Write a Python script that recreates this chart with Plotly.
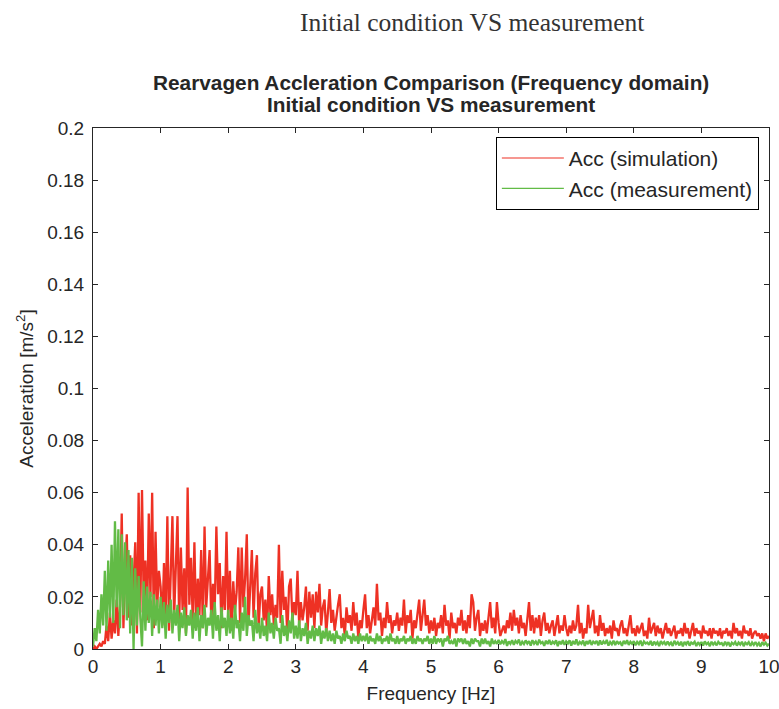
import numpy as np
import plotly.graph_objects as go

# Frequency bins of the spectra (0 .. 10 Hz, 0.025 Hz resolution)
freq_step = 0.025
freq_hz = np.round(np.arange(401) * freq_step, 3)

# Simulated acceleration amplitude spectrum [m/s^2]
acc_simulation = [
    0.000, 0.001, 0.000, 0.001, 0.002, 0.001, 0.003, 0.002, 0.009, 0.003, 0.014, 0.004, 0.011, 0.006, 0.019, 0.005, 0.017, 0.052, 0.008, 0.031,
    0.044, 0.012, 0.036, 0.009, 0.028, 0.041, 0.006, 0.060, 0.014, 0.061, 0.018, 0.034, 0.011, 0.052, 0.020, 0.060, 0.008, 0.045, 0.016, 0.030,
    0.024, 0.009, 0.033, 0.013, 0.051, 0.007, 0.029, 0.051, 0.012, 0.036, 0.051, 0.010, 0.039, 0.015, 0.031, 0.006, 0.062, 0.017, 0.035, 0.011,
    0.041, 0.009, 0.027, 0.013, 0.038, 0.008, 0.047, 0.016, 0.030, 0.038, 0.010, 0.025, 0.014, 0.047, 0.021, 0.033, 0.008, 0.028, 0.015, 0.045,
    0.012, 0.030, 0.007, 0.026, 0.014, 0.022, 0.039, 0.010, 0.039, 0.016, 0.027, 0.044, 0.009, 0.024, 0.038, 0.012, 0.029, 0.036, 0.008, 0.021,
    0.024, 0.011, 0.019, 0.006, 0.028, 0.013, 0.021, 0.009, 0.017, 0.012, 0.040, 0.010, 0.030, 0.015, 0.020, 0.005, 0.024, 0.027, 0.011, 0.018,
    0.013, 0.030, 0.009, 0.018, 0.011, 0.016, 0.024, 0.007, 0.022, 0.012, 0.021, 0.008, 0.022, 0.014, 0.025, 0.009, 0.016, 0.019, 0.006, 0.014,
    0.023, 0.010, 0.015, 0.007, 0.013, 0.017, 0.021, 0.008, 0.012, 0.005, 0.016, 0.010, 0.013, 0.007, 0.018, 0.009, 0.014, 0.004, 0.011, 0.008,
    0.015, 0.021, 0.008, 0.013, 0.006, 0.012, 0.016, 0.009, 0.025, 0.011, 0.014, 0.005, 0.012, 0.008, 0.018, 0.010, 0.013, 0.006, 0.011, 0.009,
    0.014, 0.007, 0.012, 0.009, 0.019, 0.006, 0.013, 0.010, 0.015, 0.004, 0.011, 0.008, 0.014, 0.019, 0.007, 0.012, 0.019, 0.009, 0.013, 0.006,
    0.011, 0.007, 0.012, 0.005, 0.010, 0.008, 0.013, 0.006, 0.017, 0.009, 0.011, 0.004, 0.014, 0.008, 0.010, 0.006, 0.012, 0.009, 0.015, 0.007,
    0.011, 0.006, 0.013, 0.008, 0.021, 0.018, 0.007, 0.012, 0.015, 0.005, 0.010, 0.007, 0.011, 0.006, 0.013, 0.018, 0.008, 0.012, 0.006, 0.018,
    0.010, 0.005, 0.007, 0.009, 0.006, 0.011, 0.008, 0.014, 0.007, 0.015, 0.009, 0.012, 0.006, 0.013, 0.008, 0.010, 0.005, 0.012, 0.018, 0.007,
    0.013, 0.006, 0.012, 0.008, 0.013, 0.005, 0.011, 0.014, 0.007, 0.010, 0.006, 0.009, 0.011, 0.005, 0.010, 0.013, 0.006, 0.009, 0.007, 0.013,
    0.008, 0.005, 0.009, 0.006, 0.011, 0.007, 0.009, 0.017, 0.006, 0.010, 0.004, 0.008, 0.006, 0.017, 0.008, 0.011, 0.015, 0.006, 0.009, 0.005,
    0.013, 0.007, 0.010, 0.005, 0.008, 0.006, 0.009, 0.004, 0.011, 0.007, 0.008, 0.005, 0.009, 0.011, 0.006, 0.008, 0.005, 0.009, 0.013, 0.006,
    0.008, 0.005, 0.009, 0.006, 0.008, 0.010, 0.005, 0.007, 0.004, 0.012, 0.006, 0.008, 0.010, 0.005, 0.009, 0.006, 0.008, 0.004, 0.007, 0.010,
    0.006, 0.008, 0.005, 0.007, 0.009, 0.004, 0.007, 0.006, 0.008, 0.005, 0.010, 0.006, 0.008, 0.004, 0.007, 0.010, 0.005, 0.008, 0.006, 0.007,
    0.004, 0.009, 0.006, 0.007, 0.005, 0.008, 0.004, 0.008, 0.006, 0.007, 0.005, 0.008, 0.004, 0.007, 0.006, 0.008, 0.005, 0.007, 0.004, 0.010,
    0.006, 0.008, 0.005, 0.007, 0.004, 0.009, 0.006, 0.007, 0.005, 0.008, 0.004, 0.006, 0.007, 0.005, 0.006, 0.004, 0.006, 0.003, 0.006, 0.004,
    0.005,
]

# Measured acceleration amplitude spectrum [m/s^2]
acc_measurement = [
    0.001, 0.008, 0.003, 0.015, 0.006, 0.021, 0.009, 0.030, 0.007, 0.034, 0.012, 0.040, 0.010, 0.049, 0.016, 0.046, 0.008, 0.044, 0.013, 0.041,
    0.011, 0.038, 0.006, 0.035, 0.000, 0.031, 0.009, 0.028, 0.012, 0.001, 0.026, 0.007, 0.024, 0.010, 0.022, 0.005, 0.021, 0.009, 0.019, 0.006,
    0.020, 0.008, 0.018, 0.004, 0.017, 0.010, 0.019, 0.006, 0.015, 0.009, 0.017, 0.003, 0.014, 0.008, 0.016, 0.005, 0.013, 0.009, 0.015, 0.004,
    0.014, 0.007, 0.016, 0.003, 0.013, 0.008, 0.017, 0.005, 0.012, 0.009, 0.015, 0.004, 0.018, 0.007, 0.013, 0.003, 0.016, 0.008, 0.012, 0.005,
    0.015, 0.006, 0.012, 0.004, 0.017, 0.008, 0.011, 0.003, 0.014, 0.007, 0.020, 0.005, 0.013, 0.009, 0.011, 0.003, 0.015, 0.006, 0.010, 0.004,
    0.012, 0.005, 0.009, 0.003, 0.014, 0.006, 0.010, 0.004, 0.012, 0.007, 0.008, 0.002, 0.013, 0.005, 0.009, 0.003, 0.011, 0.006, 0.014, 0.004,
    0.009, 0.004, 0.011, 0.003, 0.008, 0.005, 0.010, 0.002, 0.007, 0.004, 0.009, 0.003, 0.008, 0.005, 0.009, 0.002, 0.007, 0.004, 0.008, 0.003,
    0.007, 0.003, 0.006, 0.002, 0.007, 0.004, 0.005, 0.002, 0.006, 0.003, 0.007, 0.004, 0.005, 0.002, 0.006, 0.003, 0.005, 0.002, 0.006, 0.003,
    0.005, 0.003, 0.006, 0.002, 0.005, 0.003, 0.004, 0.002, 0.006, 0.003, 0.005, 0.002, 0.004, 0.003, 0.005, 0.002, 0.006, 0.003, 0.004, 0.002,
    0.005, 0.002, 0.004, 0.003, 0.005, 0.002, 0.004, 0.003, 0.005, 0.002, 0.004, 0.002, 0.005, 0.003, 0.004, 0.002, 0.004, 0.003, 0.005, 0.002,
    0.004, 0.002, 0.005, 0.002, 0.004, 0.003, 0.004, 0.001, 0.004, 0.003, 0.005, 0.002, 0.003, 0.002, 0.004, 0.001, 0.004, 0.003, 0.004, 0.002,
    0.004, 0.002, 0.003, 0.001, 0.004, 0.002, 0.004, 0.003, 0.003, 0.001, 0.004, 0.002, 0.004, 0.002, 0.003, 0.001, 0.004, 0.002, 0.003, 0.002,
    0.0035, 0.0018, 0.0030, 0.0022, 0.0038, 0.0012, 0.0029, 0.0020, 0.0034, 0.0016, 0.0031, 0.0023, 0.0036, 0.0014, 0.0028, 0.0019, 0.0033, 0.0021, 0.0030, 0.0013,
    0.0034, 0.0020, 0.0029, 0.0015, 0.0036, 0.0022, 0.0027, 0.0012, 0.0032, 0.0019, 0.0035, 0.0017, 0.0028, 0.0021, 0.0033, 0.0011, 0.0030, 0.0018, 0.0034, 0.0016,
    0.0029, 0.0021, 0.0033, 0.0013, 0.0031, 0.0018, 0.0037, 0.0015, 0.0027, 0.0020, 0.0032, 0.0012, 0.0030, 0.0019, 0.0034, 0.0016, 0.0028, 0.0022, 0.0031, 0.0014,
    0.0033, 0.0017, 0.0029, 0.0020, 0.0035, 0.0013, 0.0027, 0.0018, 0.0032, 0.0015, 0.0030, 0.0021, 0.0026, 0.0012, 0.0031, 0.0019, 0.0034, 0.0016, 0.0028, 0.0020,
    0.0030, 0.0014, 0.0027, 0.0019, 0.0032, 0.0012, 0.0029, 0.0021, 0.0025, 0.0016, 0.0031, 0.0013, 0.0028, 0.0018, 0.0026, 0.0011, 0.0030, 0.0020, 0.0027, 0.0015,
    0.0029, 0.0017, 0.0025, 0.0012, 0.0031, 0.0019, 0.0026, 0.0014, 0.0028, 0.0010, 0.0027, 0.0018, 0.0030, 0.0013, 0.0025, 0.0020, 0.0028, 0.0011, 0.0026, 0.0016,
    0.0027, 0.0013, 0.0029, 0.0018, 0.0024, 0.0011, 0.0028, 0.0017, 0.0025, 0.0014, 0.0027, 0.0019, 0.0023, 0.0012, 0.0028, 0.0016, 0.0026, 0.0010, 0.0024, 0.0018,
    0.0027, 0.0013, 0.0025, 0.0017, 0.0028, 0.0011, 0.0024, 0.0018, 0.0026, 0.0012, 0.0025, 0.0016, 0.0027, 0.0014, 0.0023, 0.0010, 0.0026, 0.0017, 0.0024, 0.0013,
    0.0020,
]

series_names = ["Acc (simulation)", "Acc (measurement)"]
series_colors = ["#EE3124", "#62BB46"]

x_ticks = list(range(0, 11))
y_ticks = [0, 0.02, 0.04, 0.06, 0.08, 0.1, 0.12, 0.14, 0.16, 0.18, 0.2]
y_tick_text = ["0", "0.02", "0.04", "0.06", "0.08", "0.1", "0.12", "0.14", "0.16", "0.18", "0.2"]

caption = "Initial condition VS measurement"
title_lines = ["Rearvagen Accleration Comparison (Frequency domain)",
               "Initial condition VS measurement"]

ink = "#262626"
sans = "Liberation Sans, Arial, sans-serif"
label_size = 19

fig = go.Figure()
# Dense spectra drawn with a heavier stroke; legend keys use thin lines
for values, name, color in zip([acc_simulation, acc_measurement], series_names, series_colors):
    fig.add_trace(go.Scatter(
        x=freq_hz, y=values, mode="lines", name=name, legendgroup=name,
        showlegend=False, line=dict(color=color, width=2.3),
    ))
for name, color in zip(series_names, series_colors):
    fig.add_trace(go.Scatter(
        x=[None], y=[None], mode="lines", name=name, legendgroup=name,
        line=dict(color=color, width=1.2),
    ))

axis_common = dict(
    showline=True, linecolor=ink, linewidth=1, mirror="ticks",
    ticks="inside", ticklen=5, tickcolor=ink, showgrid=False, zeroline=False,
    tickfont=dict(family=sans, size=label_size, color=ink), automargin=False,
)

fig.update_layout(
    width=779, height=709,
    paper_bgcolor="white", plot_bgcolor="white",
    margin=dict(l=93, r=10, t=128, b=60),
    showlegend=True,
    legend=dict(
        x=0.985, y=0.983, xanchor="right", yanchor="top",
        bgcolor="white", bordercolor="black", borderwidth=1,
        font=dict(family=sans, size=21, color=ink),
        itemwidth=62, tracegroupgap=0,
    ),
    xaxis=dict(range=[0, 10], tickvals=x_ticks, ticklabeloverflow="allow",
               title=dict(text="Frequency [Hz]", font=dict(family=sans, size=label_size, color=ink), standoff=10),
               **axis_common),
    yaxis=dict(range=[0, 0.2], tickvals=y_ticks, ticktext=y_tick_text, ticklabelstandoff=4,
               title=dict(text="Acceleration [m/s<sup>2</sup>]", font=dict(family=sans, size=label_size, color=ink), standoff=8),
               **axis_common),
    annotations=[
        # caption line set above the chart title
        dict(text=caption, xref="paper", yref="paper", x=0.56, y=1.0,
             xanchor="center", yanchor="middle", yshift=106, showarrow=False,
             font=dict(family="Liberation Serif, serif", size=25.5, color="#333333")),
        dict(text="<b>" + title_lines[0] + "</b>",
             xref="paper", yref="paper", x=0.5, y=1.0, xanchor="center", yanchor="middle",
             showarrow=False, yshift=46,
             font=dict(family=sans, size=20.8, color=ink)),
        dict(text="<b>" + title_lines[1] + "</b>",
             xref="paper", yref="paper", x=0.5, y=1.0, xanchor="center", yanchor="middle",
             showarrow=False, yshift=24,
             font=dict(family=sans, size=20.8, color=ink)),
    ],
)

fig.write_html("out.html")
